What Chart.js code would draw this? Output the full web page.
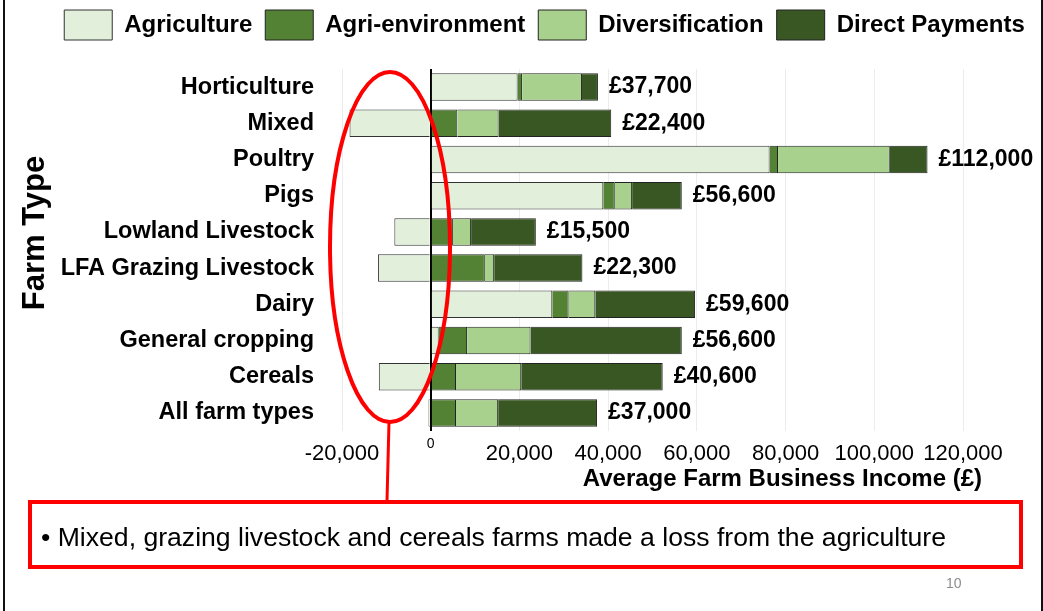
<!DOCTYPE html>
<html>
<head>
<meta charset="utf-8">
<title>Farm Business Income by Farm Type</title>
<script src="https://cdn.jsdelivr.net/npm/chart.js@4.4.1/dist/chart.umd.min.js"></script>
<style>
	html, body {
		margin: 0;
		padding: 0;
		background: #fff;
		overflow: hidden;
	}
	#wrap {
		position: relative;
		width: 1043px;
		height: 611px;
		font-family: 'Liberation Sans', Arial, sans-serif;
	}
	#chart {
		position: absolute;
		left: 0;
		top: 0;
	}
	#frame {
		position: absolute;
		left: 3px;
		top: -10px;
		width: 1036px;
		height: 640px;
		border-left: 2px solid #111;
		border-right: 2px solid #111;
		pointer-events: none;
	}
	#marks {
		position: absolute;
		left: 0;
		top: 0;
		pointer-events: none;
	}
	#note {
		position: absolute;
		left: 28px;
		top: 500px;
		width: 995px;
		height: 69px;
		box-sizing: border-box;
		border: 4px solid #ff0000;
		font-size: 26.6px;
		line-height: 66px;
		padding-left: 9px;
		color: #000;
		white-space: nowrap;
	}
	#page {
		position: absolute;
		left: 946px;
		top: 575px;
		font-size: 14px;
		color: #8c8c8c;
	}
</style>
</head>
<body>
<div id="wrap">
	<canvas id="chart" width="1043" height="611"></canvas>
	<svg id="marks" width="1043" height="611">
		<ellipse cx="390" cy="247" rx="60" ry="175" fill="none" stroke="#ff0000" stroke-width="4"/>
		<line x1="389" y1="422" x2="387" y2="501" stroke="#ff0000" stroke-width="3"/>
	</svg>
	<div id="note">&bull; Mixed, grazing livestock and cereals farms made a loss from the agriculture</div>
	<div id="page">10</div>
	<div id="frame"></div>
</div>
<script>
// farm types, top to bottom
const farmTypes = ['Horticulture', 'Mixed', 'Poultry', 'Pigs', 'Lowland Livestock',
	'LFA Grazing Livestock', 'Dairy', 'General cropping', 'Cereals', 'All farm types'];

// income by source, £ per farm
const agriculture     = [19600, -18300, 76400, 38900, -8200, -11900, 27400,  1800, -11700,  -500];
const agriEnvironment = [ 1000,   6000,  1900,  2600,  5000,  12200,  3700,  6400,   5700,  5700];
const diversification = [13500,   9300, 25200,  3900,  4100,   2100,  6000, 14300,  14700,  9500];
const directPayments  = [ 3600,  25400,  8500, 11200, 14600,  19900, 22500, 34100,  31900, 22300];

// total labels printed beside each bar
const totals = [37700, 22400, 112000, 56600, 15500, 22300, 59600, 56600, 40600, 37000];

const xTicksMin = -20000;
const xTicksMax = 120000;
const xTickStep = 20000;

const FONT = "'Liberation Sans', Arial, sans-serif";
Chart.defaults.font.family = FONT;
Chart.defaults.color = '#000';

// prints "£37,700" etc. just past the end of each stacked bar
const totalLabels = {
	id: 'totalLabels',
	afterDatasetsDraw(chart) {
		let ctx = chart.ctx;
		let meta = chart.getDatasetMeta(chart.data.datasets.length - 1);
		ctx.save();
		ctx.font = 'bold 23px ' + FONT;
		ctx.fillStyle = '#000';
		ctx.textAlign = 'left';
		ctx.textBaseline = 'middle';
		meta.data.forEach((bar, i) => {
			ctx.fillText('£' + totals[i].toLocaleString('en-GB'), bar.x + 11, bar.y);
		});
		ctx.restore();
	}
};

// small shifts: legend right/up, axis titles off-centre like the slide
const layoutNudge = {
	id: 'layoutNudge',
	afterLayout(chart) {
		let lg = chart.legend;
		if (lg) {
			lg.left += 18;
			lg.right += 18;
			lg.top -= 19;
			lg.bottom -= 19;
		}
		// pixels are already configured, so this only moves the titles
		chart.scales.x.right += 19;
		chart.scales.y.top -= 34;
	}
};

let data = {
	labels: farmTypes,
	datasets: [{
		label: 'Agriculture',
		data: agriculture,
		yAxisID: 'y',
		backgroundColor: '#e2efda',
		borderColor: '#333',
		borderWidth: 1
	}, {
		label: 'Agri-environment',
		data: agriEnvironment,
		yAxisID: 'y',
		backgroundColor: '#548235',
		borderColor: '#222',
		borderWidth: 1
	}, {
		label: 'Diversification',
		data: diversification,
		yAxisID: 'y',
		backgroundColor: '#a9d18e',
		borderColor: '#222',
		borderWidth: 1
	}, {
		label: 'Direct Payments',
		data: directPayments,
		yAxisID: 'y',
		backgroundColor: '#385723',
		borderColor: '#222',
		borderWidth: 1
	}]
};

let xScaleConfig = {
	stacked: true,
	min: xTicksMin,
	max: xTicksMax,
	border: {
		display: false
	},
	grid: {
		drawTicks: false,
		color: (c) => c.tick && c.tick.value === 0 ? '#000' : '#ececec',
		lineWidth: (c) => c.tick && c.tick.value === 0 ? 2 : 1
	},
	ticks: {
		stepSize: xTickStep,
		padding: 10,
		font: (c) => c.tick && c.tick.value === 0
			? { size: 14, lineHeight: 0.5 }
			: { size: 22 },
		callback: (v) => v === 0 ? '0' : Number(v).toLocaleString('en-US')
	},
	title: {
		display: true,
		text: 'Average Farm Business Income (£)',
		align: 'end',
		font: { size: 24, weight: 'bold' },
		padding: { top: 0, bottom: 12 }
	},
	afterFit: (scale) => {
		scale.height = 75;
	}
};

let yScaleConfig = {
	stacked: true,
	border: {
		display: false
	},
	grid: {
		display: false,
		drawTicks: false
	},
	ticks: {
		padding: 28,
		font: { size: 23.5, weight: 'bold' }
	},
	title: {
		display: true,
		text: 'Farm Type',
		font: { size: 31, weight: 'bold' },
		padding: { top: 7, bottom: 0 }
	},
	afterFit: (scale) => {
		scale.width = 332;
	}
};

// empty axis on the right that keeps room for the total labels
let yPadConfig = {
	type: 'category',
	position: 'right',
	border: { display: false },
	grid: { display: false, drawTicks: false },
	ticks: { display: false },
	afterFit: (scale) => {
		scale.width = 80;
	}
};

let config = {
	type: 'bar',
	data: data,
	options: {
		indexAxis: 'y',
		responsive: false,
		animation: false,
		barPercentage: 0.76,
		categoryPercentage: 1,
		layout: {
			padding: { left: 10, right: 0, top: 16, bottom: 105 }
		},
		scales: {
			x: xScaleConfig,
			y: yScaleConfig,
			yPad: yPadConfig
		},
		plugins: {
			legend: {
				position: 'top',
				labels: {
					boxWidth: 48,
					boxHeight: 30,
					padding: 13,
					font: { size: 24, weight: 'bold' }
				}
			},
			tooltip: {
				enabled: false
			}
		}
	},
	plugins: [totalLabels, layoutNudge]
};

let canvas = document.getElementById('chart');
let chart = new Chart(canvas.getContext('2d'), config);
</script>
</body>
</html>
